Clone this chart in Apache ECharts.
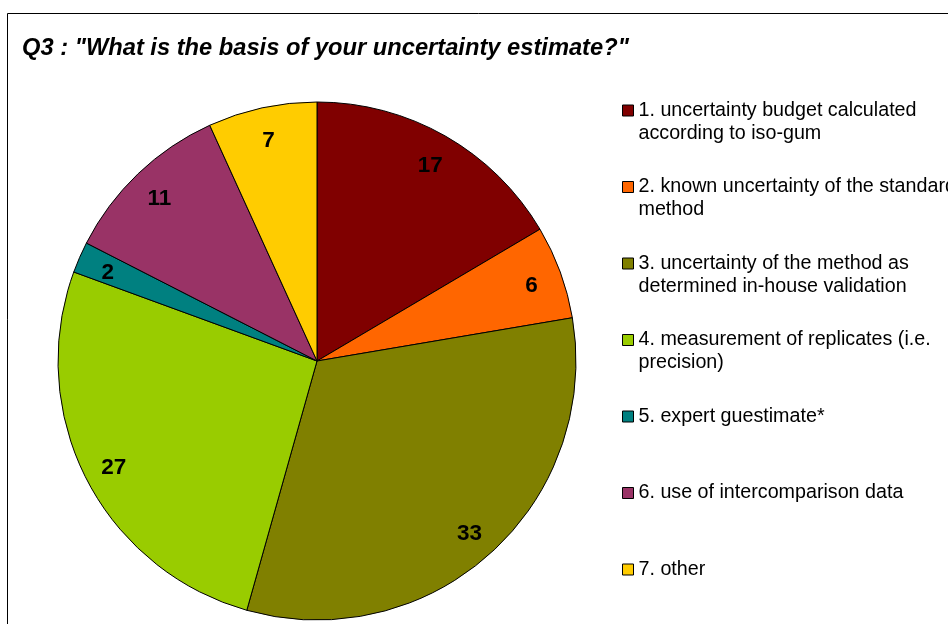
<!DOCTYPE html>
<html>
<head>
<meta charset="utf-8">
<script src="https://cdn.jsdelivr.net/npm/echarts@6/dist/echarts.min.js"></script>
<style>
html,body{margin:0;padding:0;background:#fff;}
#c{width:948px;height:624px;}
</style>
</head>
<body>
<div id="c"></div>
<script>
var titleText = 'Q3 : "What is the basis of your uncertainty estimate?"';
var categories = [
  '1. uncertainty budget calculated\naccording to iso-gum',
  '2. known uncertainty of the standard\nmethod',
  '3. uncertainty of the method as\ndetermined in-house validation',
  '4. measurement of replicates (i.e.\nprecision)',
  '5. expert guestimate*',
  '6. use of intercomparison data',
  '7. other'
];
var values = [17, 6, 33, 27, 2, 11, 7];
var colors = ['#800000', '#FF6600', '#808000', '#99CC00', '#008080', '#993366', '#FFCC00'];

var data = categories.map(function (c, i) {
  return { name: c, value: values[i], itemStyle: { color: colors[i] } };
});
var labelData = categories.map(function (c, i) {
  return { name: c, value: values[i] };
});

var chart = echarts.init(document.getElementById('c'), null, { renderer: 'canvas' });
var R = 259;
chart.setOption({
  backgroundColor: '#ffffff',
  animation: false,
  textStyle: { fontFamily: 'Liberation Sans, Arial, sans-serif' },
  title: {
    text: titleText,
    left: 22,
    top: 36,
    padding: 0,
    textStyle: {
      fontFamily: 'Liberation Sans, Arial, sans-serif',
      fontSize: 23.7,
      fontWeight: 'bold',
      fontStyle: 'italic',
      color: '#000'
    }
  },
  graphic: [{
    type: 'rect',
    shape: { x: 7.5, y: 13.5, width: 1200, height: 900 },
    style: { fill: 'none', stroke: '#000', lineWidth: 1 },
    silent: true,
    z: 100
  }],
  legend: {
    orient: 'vertical',
    left: 622,
    top: 76,
    itemWidth: 11,
    itemHeight: 11,
    itemGap: 7.5,
    icon: 'rect',
    selectedMode: false,
    padding: 0,
    data: categories,
    itemStyle: { borderColor: '#000', borderWidth: 1 },
    formatter: function (name) {
      return name.indexOf('\n') >= 0 ? ' \n' + name : ' \n' + name + '\n ';
    },
    textStyle: {
      fontFamily: 'Liberation Sans, Arial, sans-serif',
      fontSize: 19.7,
      lineHeight: 23,
      color: '#000'
    }
  },
  series: [{
    type: 'pie',
    center: [317, 361],
    radius: [0, R],
    startAngle: 90,
    clockwise: true,
    silent: true,
    label: { show: false },
    labelLine: { show: false },
    itemStyle: { borderColor: '#000', borderWidth: 1 },
    emphasis: { disabled: true },
    data: data
  }, {
    type: 'pie',
    center: [317, 364],
    radius: [R * 0.74, R],
    startAngle: 90,
    clockwise: true,
    silent: true,
    z: 5,
    itemStyle: { color: 'rgba(0,0,0,0)', borderWidth: 0 },
    label: {
      show: true,
      position: 'inside',
      formatter: '{c}',
      fontFamily: 'Liberation Sans, Arial, sans-serif',
      fontSize: 22.5,
      fontWeight: 'bold',
      color: '#000'
    },
    labelLine: { show: false },
    emphasis: { disabled: true },
    data: labelData
  }]
});
</script>
</body>
</html>
